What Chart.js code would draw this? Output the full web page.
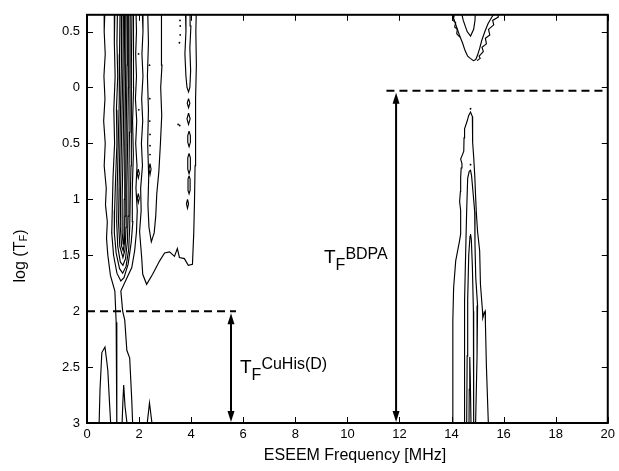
<!DOCTYPE html>
<html><head><meta charset="utf-8">
<script src="https://cdn.jsdelivr.net/npm/chart.js@4/dist/chart.umd.min.js"></script>
<style>html,body{margin:0;padding:0;background:#fff}</style>
</head><body>
<canvas id="c" width="619" height="471"></canvas>
<script>
// ---------- tick data ----------
const xTicks = [0,2,4,6,8,10,12,14,16,18,20];
const xTickLabels = ['0','2','4','6','8','10','12','14','16','18','20'];
const yTicks = [-0.5,0,0.5,1,1.5,2,2.5,3];
const yTickLabels = ['0.5','0','0.5','1','1.5','2','2.5','3'];

// ---------- contour lines (x = MHz, y = log(T_F)) ----------
const contourA = [[0.69,-0.7],[0.66,-0.5],[0.70,-0.3],[0.65,-0.1],[0.69,0.1],[0.64,0.3],[0.70,0.5],[0.66,0.7],[0.74,0.9],[0.71,1.05],[0.78,1.2],[0.75,1.35],[0.8,1.5],[0.9,1.68],[1.07,1.82],[1.12,2.1],[1.14,2.6],[1.15,3.05],
  [1.76,3.05],[1.72,2.8],[1.64,2.42],[1.53,2.35],[1.45,2.08],[1.37,2.0],[1.3,1.82],[1.5,1.72],[1.72,1.61],[1.83,1.46],[1.9,1.29],[1.93,1.1],[1.88,0.9],[1.92,0.7],[1.87,0.5],[1.91,0.3],[1.86,0.1],[1.9,-0.1],[1.87,-0.3],[1.9,-0.5],[1.88,-0.7]];
const contourB1 = [[1.07,-0.7],[1.05,-0.4],[1.08,-0.1],[1.03,0.2],[1.06,0.5],[1.0,0.8],[0.97,1.1],[0.95,1.3],[1.02,1.5],[1.15,1.66],[1.3,1.73],[1.42,1.7],[1.58,1.58],[1.7,1.38],[1.76,1.2],[1.74,0.9],[1.78,0.6],[1.75,0.3],[1.79,0.0],[1.77,-0.3],[1.8,-0.7]];
const contourB2 = [[1.17,-0.7],[1.15,-0.4],[1.18,-0.1],[1.13,0.2],[1.15,0.5],[1.1,0.8],[1.06,1.1],[1.05,1.3],[1.12,1.48],[1.25,1.62],[1.37,1.66],[1.5,1.6],[1.6,1.45],[1.64,1.25],[1.66,1.0],[1.69,0.7],[1.7,0.4],[1.69,0.1],[1.72,-0.2],[1.73,-0.7]];
const contourB3 = [[1.27,-0.7],[1.25,-0.3],[1.24,0.1],[1.2,0.5],[1.16,0.9],[1.14,1.2],[1.18,1.42],[1.28,1.56],[1.38,1.59],[1.48,1.53],[1.55,1.38],[1.58,1.15],[1.61,0.8],[1.63,0.4],[1.65,0.0],[1.66,-0.7]];
const contourB4 = [[1.34,-0.7],[1.32,-0.2],[1.28,0.3],[1.24,0.8],[1.21,1.2],[1.26,1.42],[1.38,1.52],[1.46,1.45],[1.5,1.25],[1.53,0.9],[1.56,0.5],[1.59,0.0],[1.6,-0.7]];
const contourB5 = [[1.40,-0.7],[1.38,-0.2],[1.33,0.4],[1.29,0.9],[1.28,1.25],[1.33,1.42],[1.39,1.46],[1.44,1.38],[1.46,1.15],[1.49,0.8],[1.51,0.3],[1.54,-0.2],[1.55,-0.7]];
const contourB6 = [[1.45,-0.7],[1.43,-0.2],[1.39,0.5],[1.35,1.0],[1.35,1.3],[1.39,1.40],[1.42,1.32],[1.43,1.0],[1.45,0.5],[1.48,0.0],[1.5,-0.7]];
const contourC = [[2.12,-0.7],[2.15,-0.5],[2.11,-0.3],[2.15,-0.1],[2.1,0.1],[2.14,0.3],[2.09,0.5],[2.13,0.7],[2.06,0.9],[2.08,1.1],[2.02,1.29],[2.1,1.52],[2.14,1.67],[2.29,1.76],[2.52,1.67],[2.79,1.55],[2.98,1.48],[3.17,1.47],[3.36,1.51],[3.47,1.44],[3.55,1.52],[3.74,1.53],[3.89,1.59],[4.05,1.58],[4.1,1.3],[4.13,1.0],[4.15,0.7],[4.18,0.4],[4.16,0.1],[4.2,-0.2],[4.18,-0.5],[4.2,-0.7]];
const contourD = [[2.33,-0.7],[2.36,-0.4],[2.32,-0.1],[2.36,0.2],[2.33,0.5],[2.37,0.8],[2.34,1.05],[2.38,1.25],[2.47,1.38],[2.58,1.3],[2.64,1.15],[2.68,0.95],[2.76,0.75],[2.82,0.5],[2.87,0.25],[2.83,0.0],[2.88,-0.2],[2.85,-0.45],[2.87,-0.7]];
const contourE = [[3.78,-0.7],[3.8,-0.5],[3.76,-0.3],[3.8,-0.1],[3.84,0.0],[3.9,0.04],[3.95,0.0],[3.98,-0.15],[3.95,-0.35],[3.99,-0.55],[3.96,-0.7]];
const ovalE1 = [[3.9,0.1],[3.95,0.14],[3.9,0.18],[3.85,0.14],[3.9,0.1]];
const ovalE2 = [[3.9,0.23],[3.96,0.28],[3.9,0.33],[3.84,0.28],[3.9,0.23]];
const ovalE3 = [[3.92,0.39],[3.97,0.43],[3.97,0.49],[3.92,0.53],[3.87,0.49],[3.87,0.43],[3.92,0.39]];
const ovalE4 = [[3.92,0.59],[3.97,0.63],[3.97,0.73],[3.92,0.77],[3.87,0.73],[3.87,0.63],[3.92,0.59]];
const ovalE5 = [[3.92,0.79],[3.96,0.82],[3.96,0.92],[3.92,0.95],[3.88,0.92],[3.88,0.82],[3.92,0.79]];
const ovalE6 = [[3.86,1.0],[3.9,1.04],[3.86,1.08],[3.82,1.04],[3.86,1.0]];
const ovalF1 = [[1.97,0.73],[2.01,0.77],[1.97,0.81],[1.93,0.77],[1.97,0.73]];
const ovalF2 = [[1.97,0.95],[2.01,0.99],[1.97,1.03],[1.93,0.99],[1.97,0.95]];
const ovalF3 = [[2.42,0.68],[2.46,0.73],[2.42,0.78],[2.38,0.73],[2.42,0.68]];
const contourS1 = [[0.46,3.05],[0.5,2.7],[0.57,2.37],[0.69,2.32],[0.76,2.45],[0.8,2.53],[0.86,2.8],[0.92,3.05]];
const contourS2 = [[1.34,3.05],[1.38,2.8],[1.41,2.66],[1.46,2.85],[1.56,3.05]];
const contourS3 = [[2.29,3.05],[2.4,2.82],[2.52,3.05]];
const contourV1 = [[14.02,-0.7],[14.08,-0.62],[14.18,-0.55],[14.3,-0.47],[14.42,-0.4],[14.52,-0.33],[14.62,-0.28],[14.72,-0.26],[14.84,-0.24],[14.93,-0.25],[15.0,-0.29],[15.08,-0.35],[15.16,-0.42],[15.28,-0.5],[15.4,-0.57],[15.55,-0.63],[15.7,-0.68],[15.8,-0.72]];
const contourV2 = [[15.9,-0.7],[15.75,-0.66],[15.8,-0.63],[15.58,-0.6],[15.62,-0.56],[15.42,-0.52],[15.47,-0.47],[15.3,-0.44],[15.34,-0.39],[15.17,-0.36],[15.22,-0.32],[15.06,-0.28],[15.1,-0.26],[14.98,-0.24]];
const contourV3 = [[14.0,-0.66],[14.1,-0.64],[14.05,-0.6],[14.16,-0.58],[14.12,-0.54],[14.22,-0.52],[14.2,-0.48],[14.32,-0.45]];
const contourV4 = [[14.35,-0.7],[14.45,-0.6],[14.6,-0.5],[14.73,-0.46],[14.85,-0.52],[14.9,-0.6],[14.92,-0.7]];
const contourP1 = [[14.05,3.05],[14.05,2.6],[14.05,2.08],[14.08,1.79],[14.16,1.55],[14.3,1.38],[14.35,1.31],[14.36,1.2],[14.34,1.1],[14.31,1.02],[14.34,0.93],[14.35,0.81],[14.37,0.72],[14.4,0.68],[14.35,0.64],[14.42,0.6],[14.47,0.57],[14.48,0.45],[14.5,0.37],[14.6,0.3],[14.66,0.25],[14.73,0.22],[14.8,0.26],[14.81,0.35],[14.81,0.49],[14.85,0.62],[14.89,0.78],[14.92,0.95],[14.95,1.11],[15.0,1.29],[15.08,1.46],[15.11,1.76],[15.19,2.0],[15.2,2.06],[15.25,2.02],[15.29,2.0],[15.3,2.1],[15.34,2.5],[15.42,3.05]];
const contourP2 = [[14.5,3.05],[14.5,2.5],[14.5,1.91],[14.54,1.5],[14.58,1.11],[14.62,0.81],[14.68,0.75],[14.73,0.74],[14.77,0.79],[14.83,0.95],[14.89,1.11],[14.9,1.4],[14.93,1.7],[15.0,1.95],[14.98,2.4],[14.92,3.05]];
const contourP3 = [[14.58,3.05],[14.6,2.4],[14.62,1.9],[14.66,1.5],[14.71,1.33],[14.73,1.31],[14.76,1.36],[14.8,1.6],[14.84,2.0],[14.85,2.5],[14.85,3.05]];
const contourP4 = [[14.67,3.05],[14.68,2.7],[14.7,2.41],[14.72,2.6],[14.75,3.05]];
const dots = [[2.4,-0.2],[2.41,0.1],[2.41,0.3],[2.42,0.42],[2.42,0.52],[2.42,0.6],[3.57,-0.6],[3.58,-0.55],[3.58,-0.47],[3.55,-0.4],[3.5,0.33],[3.56,0.34],[14.73,0.19],[14.73,0.69],[1.98,-0.3],[1.99,0.2]];

const contourLines = [contourA,contourB1,contourB2,contourB3,contourB4,contourB5,contourB6,contourC,contourD,contourE,
  ovalE1,ovalE2,ovalE3,ovalE4,ovalE5,ovalE6,ovalF1,ovalF2,ovalF3,contourS1,contourS2,contourS3,
  contourV1,contourV2,contourV3,contourV4,contourP1,contourP2,contourP3,contourP4];

// ---------- annotation values ----------
const cuHisLevel = {y: 2, dashFrom: 0, dashTo: 5.72, arrowX: 5.53, arrowTo: 3, label: 'CuHis(D)'};
const bdpaLevel  = {y: 0.03, dashFrom: 11.5, dashTo: 20, arrowX: 11.87, arrowTo: 3, label: 'BDPA'};

const FONT = '"Liberation Sans", Arial, Helvetica, sans-serif';

const datasets = contourLines.map(c => ({
  data: c.map(p => ({x: p[0], y: p[1]})),
  showLine: true, borderColor: '#000', borderWidth: 1.15,
  pointRadius: 0, fill: false, tension: 0
}));
datasets.push({data: dots.map(p => ({x: p[0], y: p[1]})), showLine: false,
  pointRadius: 0.9, pointBackgroundColor: '#000', pointBorderWidth: 0});

function arrowHead(ctx, x, y, dir) {
  ctx.beginPath();
  ctx.moveTo(x, y);
  ctx.lineTo(x - 3.5, y - dir * 11);
  ctx.lineTo(x + 3.5, y - dir * 11);
  ctx.closePath();
  ctx.fill();
}
function drawTF(ctx, x, base, sup) {
  ctx.textAlign = 'left'; ctx.textBaseline = 'alphabetic';
  ctx.font = '19px ' + FONT;
  ctx.fillText('T', x, base);
  const wT = ctx.measureText('T').width;
  ctx.font = '16px ' + FONT;
  ctx.fillText('F', x + wT, base + 7);
  const wF = ctx.measureText('F').width;
  ctx.fillText(sup, x + wT + wF, base - 4);
}

const framePlugin = {
  id: 'frame',
  afterDatasetsDraw(chart) {
    const ctx = chart.ctx, a = chart.chartArea;
    const xs = chart.scales.x, ys = chart.scales.y;
    ctx.save();
    ctx.strokeStyle = '#000'; ctx.fillStyle = '#000';
    // dashed levels and arrows
    [cuHisLevel, bdpaLevel].forEach(m => {
      const yp = ys.getPixelForValue(m.y);
      ctx.lineWidth = 2; ctx.setLineDash([8, 5]);
      ctx.beginPath(); ctx.moveTo(xs.getPixelForValue(m.dashFrom), yp); ctx.lineTo(xs.getPixelForValue(m.dashTo), yp); ctx.stroke();
      ctx.setLineDash([]);
      const xp = xs.getPixelForValue(m.arrowX), yb = ys.getPixelForValue(m.arrowTo);
      ctx.beginPath(); ctx.moveTo(xp, yp + 6); ctx.lineTo(xp, yb - 6); ctx.stroke();
      arrowHead(ctx, xp, yp + 2, -1);
      arrowHead(ctx, xp, yb - 1, 1);
    });
    drawTF(ctx, 240, 373, cuHisLevel.label);
    drawTF(ctx, 324, 263, bdpaLevel.label);
    // inward ticks
    ctx.lineWidth = 1;
    xTicks.forEach(v => {
      const p = Math.round(xs.getPixelForValue(v)) + 0.5;
      ctx.beginPath(); ctx.moveTo(p, a.bottom); ctx.lineTo(p, a.bottom - 6);
      ctx.moveTo(p, a.top); ctx.lineTo(p, a.top + 6); ctx.stroke();
    });
    yTicks.forEach(v => {
      const p = Math.round(ys.getPixelForValue(v)) + 0.5;
      ctx.beginPath(); ctx.moveTo(a.left, p); ctx.lineTo(a.left + 6, p);
      ctx.moveTo(a.right, p); ctx.lineTo(a.right - 6, p); ctx.stroke();
    });
    // frame
    ctx.lineWidth = 2;
    ctx.strokeRect(a.left, a.top, a.right - a.left, a.bottom - a.top);
    // axis titles
    ctx.font = '16px ' + FONT; ctx.textAlign = 'center'; ctx.textBaseline = 'alphabetic';
    ctx.fillText('ESEEM Frequency [MHz]', 355, 460);
    ctx.translate(25, 256); ctx.rotate(-Math.PI / 2);
    const p1 = 'log (T', p2 = 'F', p3 = ')';
    ctx.font = '16px ' + FONT; const w1 = ctx.measureText(p1).width, w3 = ctx.measureText(p3).width;
    ctx.font = '11px ' + FONT; const w2 = ctx.measureText(p2).width;
    let x0 = -(w1 + w2 + w3) / 2;
    ctx.textAlign = 'left';
    ctx.font = '16px ' + FONT; ctx.fillText(p1, x0, 0);
    ctx.font = '11px ' + FONT; ctx.fillText(p2, x0 + w1, 2);
    ctx.font = '16px ' + FONT; ctx.fillText(p3, x0 + w1 + w2, 0);
    ctx.restore();
  }
};

new Chart(document.getElementById('c'), {
  type: 'scatter',
  data: {datasets},
  plugins: [framePlugin],
  options: {
    responsive: false, animation: false, devicePixelRatio: 1,
    layout: {padding: {top: 12, right: 8, left: 0, bottom: 0}},
    plugins: {legend: {display: false}, tooltip: {enabled: false}},
    scales: {
      x: {
        type: 'linear', min: 0, max: 20,
        afterBuildTicks: s => { s.ticks = xTicks.map(v => ({value: v})); },
        afterFit: s => { s.height = 48; },
        ticks: {color: '#000', font: {family: FONT, size: 13}, padding: 4, maxRotation: 0, autoSkip: false,
          callback: (v, i) => xTickLabels[i]},
        grid: {display: false, drawTicks: false}, border: {display: false}
      },
      y: {
        type: 'linear', min: -0.65, max: 3, reverse: true,
        afterBuildTicks: s => { s.ticks = yTicks.map(v => ({value: v})); },
        afterFit: s => { s.width = 87; },
        ticks: {color: '#000', font: {family: FONT, size: 13}, padding: 7, autoSkip: false,
          callback: (v, i) => yTickLabels[i]},
        grid: {display: false, drawTicks: false}, border: {display: false}
      }
    }
  }
});
</script>
</body></html>
